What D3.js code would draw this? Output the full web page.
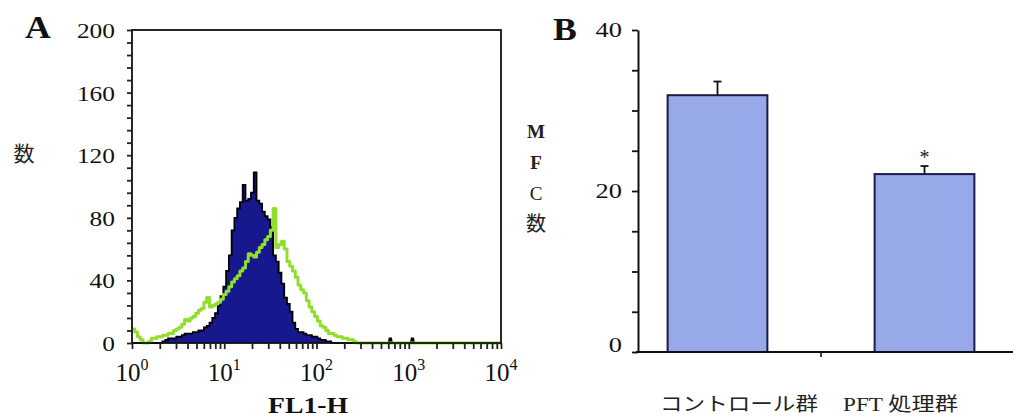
<!DOCTYPE html>
<html>
<head>
<meta charset="utf-8">
<script src="https://cdn.jsdelivr.net/npm/d3@7"></script>
<style>
  body { margin: 0; background: #fff; }
  svg { display: block; }
</style>
</head>
<body>
<div id="chart"></div>
<script>
// ---------- data ----------
// panel A: flow cytometry histogram, bins of 0.03 decades starting at 10^0
const binWidth = 0.03;
const navyCounts = [
  0, 0, 0, 0, 0, 0, 0, 0, 0, 0,
  0, 1, 2, 3, 3, 3, 4, 4, 5, 6,
  6, 6, 7, 7, 8, 8, 10, 11, 13, 16,
  19, 24, 30, 36, 46, 56, 72, 80, 86, 90,
  101, 91, 92, 96, 109, 91, 89, 84, 81, 79,
  74, 56, 52, 45, 38, 29, 25, 20, 13, 9,
  7, 7, 6, 5, 5, 4, 4, 3, 2, 2,
  1, 1, 0, 0, 0, 0, 0, 0, 0, 0
];
const greenCounts = [
  9, 7, 4, 2, 0, 0, 1, 3, 3, 4,
  4, 5, 5, 6, 6, 8, 9, 10, 12, 15,
  14, 16, 17, 19, 21, 22, 26, 29, 23, 24,
  25, 26, 28, 31, 33, 36, 39, 41, 43, 46,
  48, 52, 57, 56, 55, 58, 61, 63, 66, 68,
  72, 86, 61, 63, 65, 60, 52, 49, 46, 42,
  37, 34, 32, 27, 23, 20, 17, 14, 11, 10,
  8, 6, 6, 5, 4, 4, 3, 3, 2, 2,
  1, 0
];
// isolated events far right [log10 position, count]
const navyEvents = [[2.80, 3], [3.04, 3]];
const yTicksA = [0, 40, 80, 120, 160, 200];
const decadesA = [0, 1, 2, 3, 4];

// panel B: MFC bar chart
const groups = ["コントロール群", "PFT 処理群"];
const mfcMeans = [31.9, 22.1];
const mfcErrors = [1.7, 1.0];
const significant = [false, true];
const yTicksB = [0, 20, 40];

// ---------- setup ----------
const W = 1013, H = 419;
const svg = d3.select("#chart").append("svg")
  .attr("width", W).attr("height", H);

const serif = "'Liberation Serif', 'DejaVu Serif', serif";
const cjk = "'Noto Sans CJK JP', 'Noto Sans CJK SC', sans-serif";

// text stretched horizontally like the scanned figure
function wideText(g, x, y, str, size, sx, anchor) {
  return g.append("text")
    .attr("transform", `translate(${x},${y}) scale(${sx},1)`)
    .attr("text-anchor", anchor || "start")
    .attr("font-family", serif)
    .attr("font-size", size)
    .attr("fill", "#111")
    .text(str);
}

// ---------- panel A ----------
const gA = svg.append("g");
const xA = d3.scaleLog().domain([1, 1e4]).range([132, 501]);
const yA = d3.scaleLinear().domain([0, 200]).range([343, 30]);

function binPoints(counts) {
  const pts = counts.map((c, i) => [Math.pow(10, i * binWidth), c]);
  pts.push([Math.pow(10, counts.length * binWidth), 0]);
  return pts;
}

const navyPts = binPoints(navyCounts);
const areaA = d3.area()
  .x(d => xA(d[0])).y0(yA(0)).y1(d => yA(d[1]))
  .curve(d3.curveStepAfter);
const lineA = d3.line()
  .x(d => xA(d[0])).y(d => yA(d[1]))
  .curve(d3.curveStepAfter);

gA.append("path").datum(navyPts)
  .attr("d", areaA)
  .attr("fill", "#17178e");
gA.append("path").datum(navyPts)
  .attr("d", lineA)
  .attr("fill", "none")
  .attr("stroke", "#000")
  .attr("stroke-width", 1.8);

// small isolated events
navyEvents.forEach(ev => {
  const pts = [[Math.pow(10, ev[0] - 0.02), 0], [Math.pow(10, ev[0] - 0.01), ev[1]],
               [Math.pow(10, ev[0] + 0.01), ev[1]], [Math.pow(10, ev[0] + 0.02), 0]];
  gA.append("path").datum(pts)
    .attr("d", d3.line().x(d => xA(d[0])).y(d => yA(d[1])))
    .attr("fill", "#000").attr("stroke", "#000").attr("stroke-width", 1.5);
});

// green histogram, running on along the baseline to 10^4
const greenPts = binPoints(greenCounts);
greenPts.push([1e4, 0]);
gA.append("path").datum(greenPts)
  .attr("d", lineA)
  .attr("fill", "none")
  .attr("stroke", "#8fdf2c")
  .attr("stroke-width", 3)
  .attr("stroke-linejoin", "round");

// frame
gA.append("rect")
  .attr("x", xA(1)).attr("y", yA(200))
  .attr("width", xA(1e4) - xA(1)).attr("height", yA(0) - yA(200))
  .attr("fill", "none").attr("stroke", "#111").attr("stroke-width", 1.8);

// y axis ticks (every 8)
gA.append("g")
  .attr("transform", `translate(${xA(1)},0)`)
  .call(d3.axisLeft(yA).tickValues(d3.range(0, 201, 8)).tickSize(5).tickSizeOuter(0).tickFormat(""))
  .call(g => g.select(".domain").remove())
  .call(g => g.selectAll("line").attr("stroke", "#222").attr("stroke-width", 1.8));

yTicksA.forEach(v => {
  wideText(gA, 115, yA(v) + 8, String(v), 20, 1.27, "end");
});

// x axis ticks
const minorX = [];
decadesA.slice(0, -1).forEach(k => {
  for (let m = 1; m <= 9; m++) minorX.push(m * Math.pow(10, k));
});
minorX.push(1e4);
gA.append("g")
  .attr("transform", `translate(0,${yA(0)})`)
  .call(d3.axisBottom(xA).tickValues(minorX).tickSize(6).tickSizeOuter(0).tickFormat(""))
  .call(g => g.select(".domain").remove())
  .call(g => g.selectAll("line").attr("stroke", "#222").attr("stroke-width", 1.8));

decadesA.forEach(k => {
  const t = gA.append("text")
    .attr("x", xA(Math.pow(10, k)))
    .attr("y", 381)
    .attr("text-anchor", "middle")
    .attr("font-family", serif)
    .attr("font-size", 25)
    .attr("fill", "#111");
  t.append("tspan").text("10");
  t.append("tspan").attr("dy", -11).attr("font-size", 16).text(k);
});

gA.append("text")
  .attr("x", 308).attr("y", 413)
  .attr("text-anchor", "middle")
  .attr("font-family", serif).attr("font-weight", "bold")
  .attr("font-size", 23).attr("textLength", 80).attr("lengthAdjust", "spacingAndGlyphs")
  .attr("fill", "#111")
  .text("FL1-H");

gA.append("text")
  .attr("x", 24).attr("y", 161)
  .attr("text-anchor", "middle")
  .attr("font-family", cjk).attr("font-size", 21).attr("fill", "#222")
  .text("数");

wideText(gA, 25, 38, "A", 31, 1.15).attr("font-weight", "bold");

// ---------- panel B ----------
const gB = svg.append("g");
const yB = d3.scaleLinear().domain([0, 40]).range([352, 30]);
const xB = d3.scaleBand().domain(groups).range([614, 1028])
  .paddingInner(0.518).paddingOuter(0.259);
const axisX = 638;

gB.append("g")
  .attr("transform", `translate(${axisX},0)`)
  .call(d3.axisLeft(yB).tickValues(d3.range(0, 41, 5)).tickSize(6).tickSizeOuter(0).tickFormat(""))
  .call(g => g.select(".domain").attr("stroke", "#111").attr("stroke-width", 2))
  .call(g => g.selectAll("line").attr("stroke", "#111").attr("stroke-width", 1.8));

yTicksB.forEach(v => {
  wideText(gB, 622, yB(v) + 7 - (v === 0 ? 7 : 0), String(v), 22, 1.2, "end");
});

// bars
gB.selectAll("rect.bar")
  .data(groups)
  .enter().append("rect")
  .attr("class", "bar")
  .attr("x", d => xB(d))
  .attr("y", (d, i) => yB(mfcMeans[i]))
  .attr("width", xB.bandwidth())
  .attr("height", (d, i) => yB(0) - yB(mfcMeans[i]))
  .attr("fill", "#97a9e8")
  .attr("stroke", "#1a1a48")
  .attr("stroke-width", 2);

// error bars
groups.forEach((g, i) => {
  const cx = xB(g) + xB.bandwidth() / 2;
  const top = yB(mfcMeans[i] + mfcErrors[i]);
  gB.append("line")
    .attr("x1", cx).attr("x2", cx)
    .attr("y1", yB(mfcMeans[i])).attr("y2", top)
    .attr("stroke", "#111").attr("stroke-width", 1.8);
  gB.append("line")
    .attr("x1", cx - 4).attr("x2", cx + 4)
    .attr("y1", top).attr("y2", top)
    .attr("stroke", "#111").attr("stroke-width", 1.8);
  if (significant[i]) {
    gB.append("text")
      .attr("x", cx).attr("y", top - 2)
      .attr("text-anchor", "middle")
      .attr("font-family", serif).attr("font-size", 20).attr("fill", "#222")
      .text("*");
  }
});

// baseline
gB.append("line")
  .attr("x1", axisX - 2).attr("x2", W)
  .attr("y1", yB(0)).attr("y2", yB(0))
  .attr("stroke", "#111").attr("stroke-width", 2.2);
const midX = xB(groups[1]) - (xB.step() - xB.bandwidth()) / 2;
gB.append("line")
  .attr("x1", midX).attr("x2", midX)
  .attr("y1", yB(0)).attr("y2", yB(0) + 5)
  .attr("stroke", "#111").attr("stroke-width", 1.6);

// category labels
const catX = [660, 843];
const catW = [158, 115];
groups.forEach((g, i) => {
  const t = gB.append("text")
    .attr("x", catX[i]).attr("y", 411)
    .attr("font-size", 19).attr("fill", "#222")
    .attr("textLength", catW[i]).attr("lengthAdjust", "spacingAndGlyphs");
  if (g.startsWith("PFT")) {
    t.append("tspan").attr("font-family", serif).text("PFT ");
    t.append("tspan").attr("font-family", cjk).text(g.slice(4));
  } else {
    t.attr("font-family", cjk).text(g);
  }
});

// vertical y label
const yLabelB = [["M", serif, "bold", 138], ["F", serif, "bold", 169], ["C", serif, "normal", 200], ["数", cjk, "normal", 231]];
yLabelB.forEach(d => {
  gB.append("text")
    .attr("x", 536).attr("y", d[3])
    .attr("text-anchor", "middle")
    .attr("font-family", d[1]).attr("font-weight", d[2])
    .attr("font-size", d[0] === "数" ? 20 : 19).attr("fill", "#222")
    .text(d[0]);
});

wideText(gB, 553, 40, "B", 31, 1.15).attr("font-weight", "bold");
</script>
</body>
</html>
